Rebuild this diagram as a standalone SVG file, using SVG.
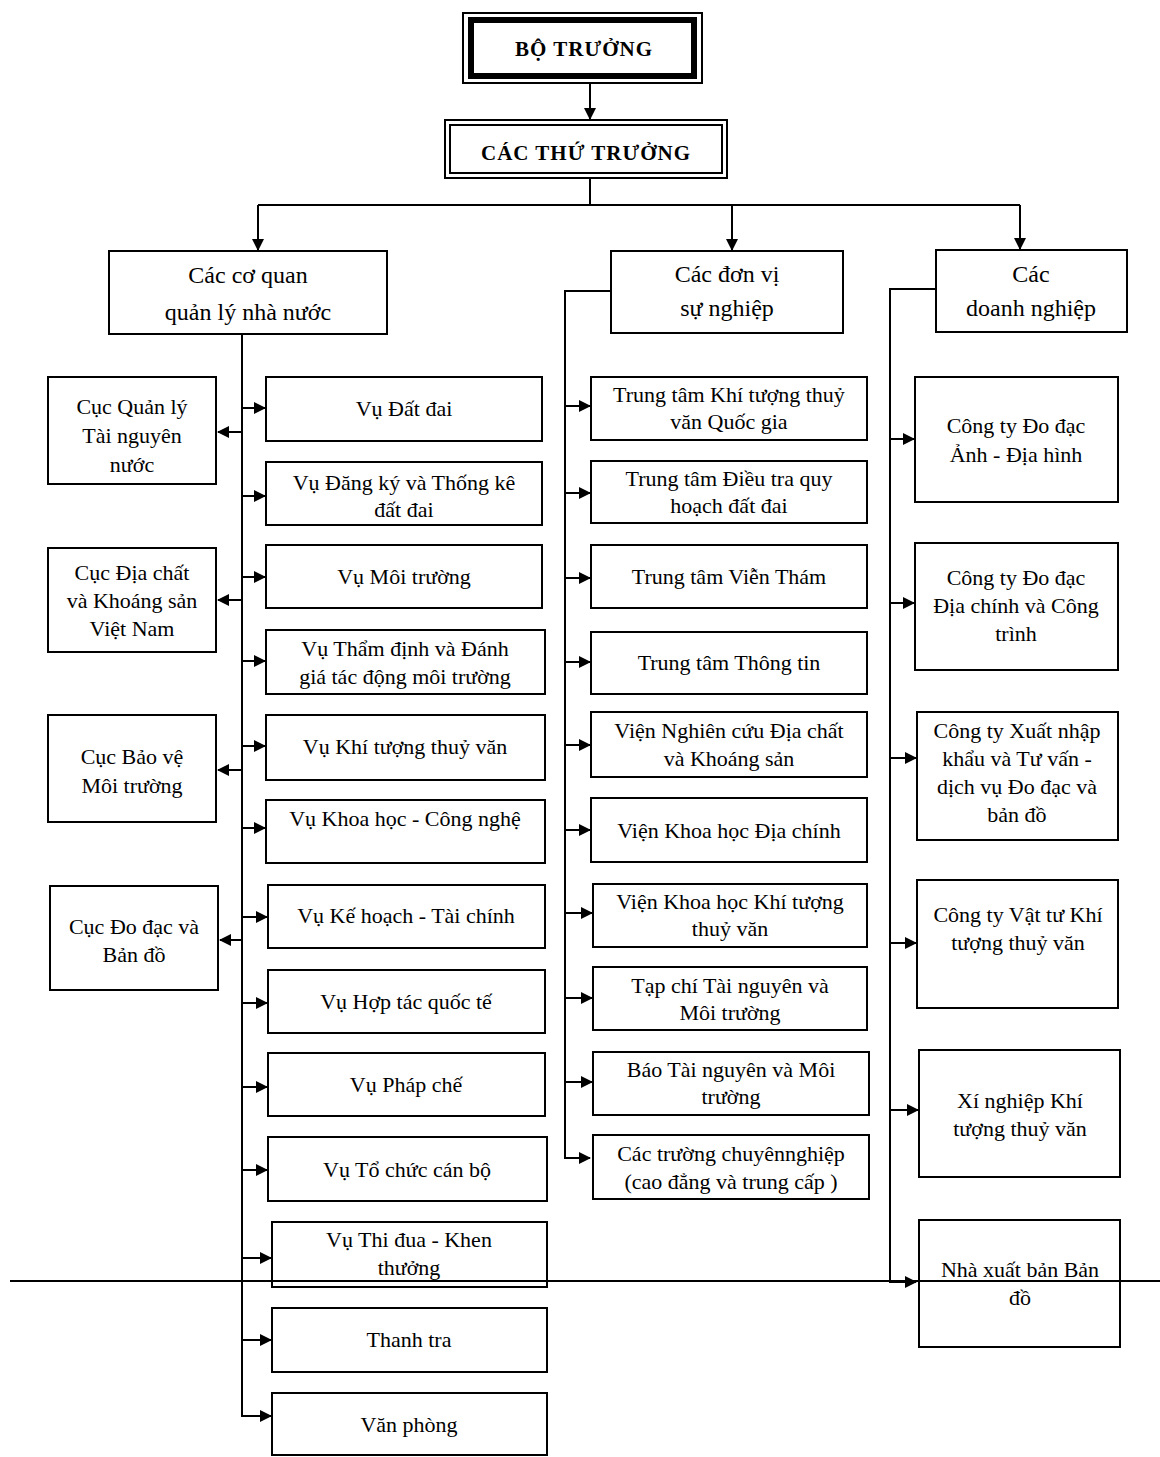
<svg xmlns="http://www.w3.org/2000/svg" width="1160" height="1457" viewBox="0 0 1160 1457">
<style>
rect.b{fill:#fff;stroke:#000;stroke-width:2}
text{font-family:"Liberation Serif","Times New Roman",serif;font-size:22px;fill:#000;text-anchor:middle}
text.h{font-weight:bold;font-size:21px;letter-spacing:1px}
text.g{font-size:24px}
.c line,.c path{stroke:#000;stroke-width:2;fill:none}
</style>
<defs>
<marker id="a" markerUnits="userSpaceOnUse" markerWidth="12" markerHeight="12" refX="11" refY="6" orient="auto">
<path d="M0,0 L12,6 L0,12 z" fill="#000"/>
</marker>
</defs>
<rect width="1160" height="1457" fill="#fff"/>

<g class="c" id="connectors">
<line x1="590" y1="83" x2="590" y2="119" marker-end="url(#a)"/>
<line x1="590" y1="178" x2="590" y2="205"/>
<line x1="258" y1="205" x2="1020" y2="205"/>
<line x1="258" y1="205" x2="258" y2="250" marker-end="url(#a)"/>
<line x1="732" y1="205" x2="732" y2="250" marker-end="url(#a)"/>
<line x1="1020" y1="205" x2="1020" y2="249" marker-end="url(#a)"/>
<line x1="242" y1="334" x2="242" y2="1417"/>
<line x1="242" y1="432" x2="218" y2="432" marker-end="url(#a)"/>
<line x1="242" y1="600" x2="218" y2="600" marker-end="url(#a)"/>
<line x1="242" y1="770" x2="218" y2="770" marker-end="url(#a)"/>
<line x1="242" y1="940" x2="220" y2="940" marker-end="url(#a)"/>
<line x1="242" y1="408" x2="265" y2="408" marker-end="url(#a)"/>
<line x1="242" y1="496" x2="265" y2="496" marker-end="url(#a)"/>
<line x1="242" y1="577" x2="265" y2="577" marker-end="url(#a)"/>
<line x1="242" y1="661" x2="265" y2="661" marker-end="url(#a)"/>
<line x1="242" y1="746" x2="265" y2="746" marker-end="url(#a)"/>
<line x1="242" y1="828" x2="265" y2="828" marker-end="url(#a)"/>
<line x1="242" y1="917" x2="267" y2="917" marker-end="url(#a)"/>
<line x1="242" y1="1003" x2="267" y2="1003" marker-end="url(#a)"/>
<line x1="242" y1="1087" x2="267" y2="1087" marker-end="url(#a)"/>
<line x1="242" y1="1170" x2="267" y2="1170" marker-end="url(#a)"/>
<line x1="242" y1="1258" x2="271" y2="1258" marker-end="url(#a)"/>
<line x1="242" y1="1340" x2="271" y2="1340" marker-end="url(#a)"/>
<path d="M242,1416 L271,1416" marker-end="url(#a)"/>
<path d="M611,291 L565,291 L565,1158 L590,1158" marker-end="url(#a)"/>
<line x1="565" y1="406" x2="590" y2="406" marker-end="url(#a)"/>
<line x1="565" y1="493" x2="590" y2="493" marker-end="url(#a)"/>
<line x1="565" y1="578" x2="590" y2="578" marker-end="url(#a)"/>
<line x1="565" y1="662" x2="590" y2="662" marker-end="url(#a)"/>
<line x1="565" y1="745" x2="590" y2="745" marker-end="url(#a)"/>
<line x1="565" y1="830" x2="590" y2="830" marker-end="url(#a)"/>
<line x1="565" y1="913" x2="592" y2="913" marker-end="url(#a)"/>
<line x1="565" y1="998" x2="592" y2="998" marker-end="url(#a)"/>
<line x1="565" y1="1082" x2="592" y2="1082" marker-end="url(#a)"/>
<path d="M936,289 L890,289 L890,1282 L916,1282" marker-end="url(#a)"/>
<line x1="890" y1="439" x2="914" y2="439" marker-end="url(#a)"/>
<line x1="890" y1="603" x2="914" y2="603" marker-end="url(#a)"/>
<line x1="890" y1="758" x2="916" y2="758" marker-end="url(#a)"/>
<line x1="890" y1="943" x2="916" y2="943" marker-end="url(#a)"/>
<line x1="890" y1="1110" x2="918" y2="1110" marker-end="url(#a)"/>
</g>

<g id="bo-truong">
<rect x="463" y="13" width="239" height="70" fill="#fff" stroke="#000" stroke-width="2"/>
<rect x="471" y="20" width="223" height="56" fill="#fff" stroke="#000" stroke-width="6"/>
<text class="h" x="584" y="56">BỘ TRƯỞNG</text>
</g>
<g id="cac-thu-truong">
<rect x="445" y="120" width="282" height="58" fill="#fff" stroke="#000" stroke-width="2"/>
<rect x="450" y="125" width="272" height="48" fill="none" stroke="#000" stroke-width="2"/>
<text class="h" x="586" y="160">CÁC THỨ TRƯỞNG</text>
</g>

<g id="co-quan">
<rect class="b" x="109" y="251" width="278" height="83"/>
<text class="g" x="248" y="283">Các cơ quan</text>
<text class="g" x="248" y="320">quản lý nhà nước</text>
</g>
<g id="don-vi">
<rect class="b" x="611" y="251" width="232" height="82"/>
<text class="g" x="727" y="282">Các đơn vị</text>
<text class="g" x="727" y="316">sự nghiệp</text>
</g>
<g id="doanh-nghiep">
<rect class="b" x="936" y="250" width="191" height="82"/>
<text class="g" x="1031" y="282">Các</text>
<text class="g" x="1031" y="316">doanh nghiệp</text>
</g>

<g id="cuc-1"><rect class="b" x="48" y="377" width="168" height="107"/>
<text x="132" y="414">Cục Quản lý</text><text x="132" y="443">Tài nguyên</text><text x="132" y="472">nước</text></g>
<g id="cuc-2"><rect class="b" x="48" y="548" width="168" height="104"/>
<text x="132" y="580">Cục Địa chất</text><text x="132" y="608">và Khoáng sản</text><text x="132" y="636">Việt Nam</text></g>
<g id="cuc-3"><rect class="b" x="48" y="715" width="168" height="107"/>
<text x="132" y="764">Cục Bảo vệ</text><text x="132" y="793">Môi trường</text></g>
<g id="cuc-4"><rect class="b" x="50" y="886" width="168" height="104"/>
<text x="134" y="934">Cục Đo đạc và</text><text x="134" y="962">Bản đồ</text></g>

<g id="vu-1"><rect class="b" x="266" y="377" width="276" height="64"/><text x="404" y="416">Vụ Đất đai</text></g>
<g id="vu-2"><rect class="b" x="266" y="462" width="276" height="63"/><text x="404" y="490">Vụ Đăng ký và Thống kê</text><text x="404" y="517">đất đai</text></g>
<g id="vu-3"><rect class="b" x="266" y="545" width="276" height="63"/><text x="404" y="584">Vụ Môi trường</text></g>
<g id="vu-4"><rect class="b" x="266" y="630" width="279" height="64"/><text x="405" y="656">Vụ Thẩm định và Đánh</text><text x="405" y="684">giá tác động môi trường</text></g>
<g id="vu-5"><rect class="b" x="266" y="715" width="279" height="65"/><text x="405" y="754">Vụ Khí tượng thuỷ văn</text></g>
<g id="vu-6"><rect class="b" x="266" y="800" width="279" height="63"/><text x="405" y="826">Vụ Khoa học - Công nghệ</text></g>
<g id="vu-7"><rect class="b" x="268" y="885" width="277" height="63"/><text x="406" y="923">Vụ Kế hoạch - Tài chính</text></g>
<g id="vu-8"><rect class="b" x="268" y="970" width="277" height="63"/><text x="406" y="1009">Vụ Hợp tác quốc tế</text></g>
<g id="vu-9"><rect class="b" x="268" y="1053" width="277" height="63"/><text x="406" y="1092">Vụ Pháp chế</text></g>
<g id="vu-10"><rect class="b" x="268" y="1137" width="279" height="64"/><text x="407" y="1177">Vụ Tổ chức cán bộ</text></g>
<g id="vu-11"><rect class="b" x="272" y="1222" width="275" height="65"/><text x="409" y="1247">Vụ Thi đua - Khen</text><text x="409" y="1275">thưởng</text></g>
<g id="vu-12"><rect class="b" x="272" y="1308" width="275" height="64"/><text x="409" y="1347">Thanh tra</text></g>
<g id="vu-13"><rect class="b" x="272" y="1393" width="275" height="62"/><text x="409" y="1432">Văn phòng</text></g>

<g id="sn-1"><rect class="b" x="591" y="377" width="276" height="63"/><text x="729" y="402">Trung tâm Khí tượng thuỷ</text><text x="729" y="429">văn Quốc gia</text></g>
<g id="sn-2"><rect class="b" x="591" y="461" width="276" height="62"/><text x="729" y="486">Trung tâm Điều tra quy</text><text x="729" y="513">hoạch đất đai</text></g>
<g id="sn-3"><rect class="b" x="591" y="545" width="276" height="63"/><text x="729" y="584">Trung tâm Viễn Thám</text></g>
<g id="sn-4"><rect class="b" x="591" y="632" width="276" height="62"/><text x="729" y="670">Trung tâm Thông tin</text></g>
<g id="sn-5"><rect class="b" x="591" y="712" width="276" height="65"/><text x="729" y="738">Viện Nghiên cứu Địa chất</text><text x="729" y="766">và Khoáng sản</text></g>
<g id="sn-6"><rect class="b" x="591" y="798" width="276" height="64"/><text x="729" y="838">Viện Khoa học Địa chính</text></g>
<g id="sn-7"><rect class="b" x="593" y="884" width="274" height="63"/><text x="730" y="909">Viện Khoa học Khí tượng</text><text x="730" y="936">thuỷ văn</text></g>
<g id="sn-8"><rect class="b" x="593" y="967" width="274" height="63"/><text x="730" y="993">Tạp chí Tài nguyên và</text><text x="730" y="1020">Môi trường</text></g>
<g id="sn-9"><rect class="b" x="593" y="1052" width="276" height="63"/><text x="731" y="1077">Báo Tài nguyên và Môi</text><text x="731" y="1104">trường</text></g>
<g id="sn-10"><rect class="b" x="593" y="1135" width="276" height="64"/><text x="731" y="1161">Các trường chuyênnghiệp</text><text x="731" y="1189">(cao đẳng và trung cấp )</text></g>

<g id="dn-1"><rect class="b" x="915" y="377" width="203" height="125"/><text x="1016" y="433">Công ty Đo đạc</text><text x="1016" y="462">Ảnh - Địa hình</text></g>
<g id="dn-2"><rect class="b" x="915" y="543" width="203" height="127"/><text x="1016" y="585">Công ty Đo đạc</text><text x="1016" y="613">Địa chính và Công</text><text x="1016" y="641">trình</text></g>
<g id="dn-3"><rect class="b" x="917" y="712" width="201" height="128"/><text x="1017" y="738">Công ty Xuất nhập</text><text x="1017" y="766">khẩu và Tư vấn -</text><text x="1017" y="794">dịch vụ Đo đạc và</text><text x="1017" y="822">bản đồ</text></g>
<g id="dn-4"><rect class="b" x="917" y="880" width="201" height="128"/><text x="1018" y="922">Công ty Vật tư Khí</text><text x="1018" y="950">tượng thuỷ văn</text></g>
<g id="dn-5"><rect class="b" x="919" y="1050" width="201" height="127"/><text x="1020" y="1108">Xí nghiệp Khí</text><text x="1020" y="1136">tượng thuỷ văn</text></g>
<g id="dn-6"><rect class="b" x="919" y="1220" width="201" height="127"/><text x="1020" y="1277">Nhà xuất bản Bản</text><text x="1020" y="1305">đồ</text></g>

<g id="page-rule">
<line x1="10" y1="1281" x2="1160" y2="1281" stroke="#000" stroke-width="2"/>
</g>
</svg>
